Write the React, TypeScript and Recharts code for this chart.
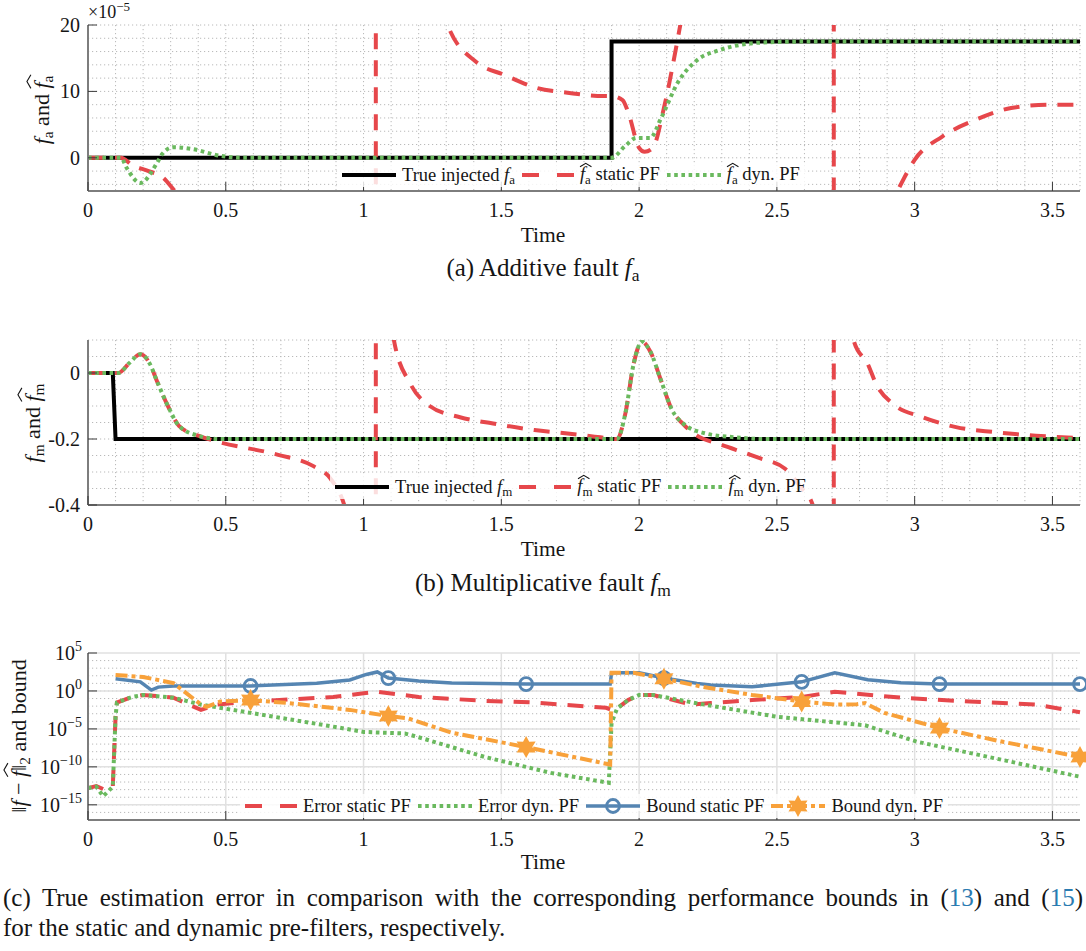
import React from "react";
import { LineChart, Line, XAxis, YAxis, CartesianGrid, Legend } from "recharts";

const FONT = '"Liberation Serif", "Times New Roman", serif';
const INK = "#151515";
const AXIS = "#7d7d7d";
const GRID = "#b9b9b9";
const MAJOR = "#e1e1e1";
const RED = "#e6474b";
const GREEN = "#6ab95e";
const BLUE = "#5585b2";
const ORANGE = "#f8a13a";
const LINK = "#2a7bb1";

const timeTicks = [0, 0.5, 1, 1.5, 2, 2.5, 3, 3.5];
const markerTimes = [0.59, 1.09, 1.59, 2.09, 2.59, 3.09, 3.6];

// (a) additive fault, values in units of 1e-5
const aTrue: [number, number][] = [[0, 0], [1.9, 0], [1.9, 17.5], [3.6, 17.5]];
const aStatic: [number, number][] = [
  [0, 0], [0.12, 0], [0.16, -1.1], [0.22, -2.0], [0.27, -2.9], [0.32, -5.2], [0.45, -9], [0.65, -18],
  [0.85, -40], [1.0, -120], [1.043, -3000], [1.046, 3000], [1.1, 200], [1.2, 42], [1.305, 20],
  [1.41, 14.4], [1.51, 12.5], [1.63, 10.5], [1.74, 9.8], [1.87, 9.3], [1.9, 9.3], [1.94, 8.7],
  [1.96, 6.9], [2.0, 1.5], [2.02, 0.9], [2.05, 1.5], [2.09, 7.5], [2.145, 19], [2.2, 32], [2.35, 70],
  [2.55, 200], [2.68, 1500], [2.705, 30000], [2.708, -30000], [2.78, -40], [2.86, -12], [2.94, -4.8],
  [3.0, -0.3], [3.1, 3.2], [3.22, 5.7], [3.35, 7.5], [3.49, 8.0], [3.6, 8.0],
];
const aDyn: [number, number][] = [
  [0, 0], [0.12, 0], [0.14, -1.5], [0.19, -3.8], [0.25, -0.8], [0.27, 0.6], [0.31, 1.6], [0.38, 1.3],
  [0.48, 0.3], [0.56, 0], [1.9, 0], [1.95, 1.8], [1.99, 3.0], [2.04, 3.0], [2.08, 6.0], [2.14, 11.3],
  [2.21, 14.7], [2.29, 16.2], [2.38, 17.1], [2.47, 17.4], [2.6, 17.5], [3.6, 17.5],
];

// (b) multiplicative fault
const bTrue: [number, number][] = [[0, 0], [0.09, 0], [0.1, -0.2], [3.6, -0.2]];
const bStatic: [number, number][] = [
  [0, 0], [0.11, 0], [0.15, 0.03], [0.19, 0.057], [0.225, 0.027], [0.25, -0.024], [0.29, -0.1],
  [0.33, -0.16], [0.4, -0.19], [0.47, -0.208], [0.69, -0.248], [0.82, -0.283], [0.88, -0.32],
  [0.93, -0.4], [1.0, -0.7], [1.043, -20], [1.046, 20], [1.08, 0.4], [1.11, 0.1], [1.17, -0.033],
  [1.24, -0.1], [1.35, -0.134], [1.47, -0.153], [1.62, -0.173], [1.74, -0.183], [1.86, -0.195],
  [1.92, -0.2], [1.95, -0.123], [1.98, 0.027], [2.01, 0.095], [2.04, 0.066], [2.08, -0.024],
  [2.12, -0.113], [2.16, -0.155], [2.21, -0.19], [2.29, -0.215], [2.43, -0.256], [2.53, -0.29],
  [2.59, -0.35], [2.63, -0.4], [2.68, -1.2], [2.705, -20], [2.708, 20], [2.75, 0.4], [2.78, 0.095],
  [2.83, 0.027], [2.86, -0.033], [2.92, -0.093], [3.03, -0.134], [3.15, -0.164], [3.29, -0.179],
  [3.44, -0.19], [3.6, -0.197],
];
const bDyn: [number, number][] = [
  [0, 0], [0.11, 0], [0.15, 0.03], [0.19, 0.057], [0.225, 0.027], [0.25, -0.024], [0.29, -0.1],
  [0.33, -0.16], [0.4, -0.19], [0.48, -0.2], [1.92, -0.2], [1.95, -0.123], [1.98, 0.027], [2.01, 0.095],
  [2.04, 0.066], [2.08, -0.024], [2.12, -0.113], [2.16, -0.153], [2.24, -0.183], [2.35, -0.195],
  [2.45, -0.2], [3.6, -0.2],
];

// (c) error norms and bounds (log scale)
const cErrStatic: [number, number][] = [
  [0, 1.6e-13], [0.03, 3e-13], [0.06, 1e-13], [0.09, 2.5e-13], [0.1, 4e-4], [0.105, 0.03],
  [0.16, 0.16], [0.2, 0.3], [0.31, 0.13], [0.41, 3.2e-3], [0.47, 0.016], [0.59, 0.04], [0.89, 0.16],
  [1.0, 0.5], [1.05, 0.8], [1.2, 0.16], [1.44, 0.05], [1.62, 0.03], [1.88, 6e-3], [1.91, 2.5e-3],
  [1.96, 0.063], [2.0, 0.3], [2.05, 0.3], [2.19, 0.016], [2.26, 0.025], [2.41, 0.063], [2.59, 0.16],
  [2.71, 0.8], [2.95, 0.13], [3.2, 0.04], [3.44, 0.016], [3.6, 1.6e-3],
];
const cErrDyn: [number, number][] = [
  [0, 1.6e-13], [0.03, 2.5e-13], [0.055, 1.3e-14], [0.09, 2.5e-13], [0.1, 4e-4], [0.105, 0.03],
  [0.16, 0.16], [0.2, 0.3], [0.31, 0.13], [0.41, 0.016], [0.59, 1.3e-3], [0.89, 2e-5], [1.0, 4e-6],
  [1.15, 2.5e-6], [1.2, 8e-7], [1.44, 2e-9], [1.68, 1.6e-11], [1.89, 8e-13], [1.9, 6e-5],
  [1.92, 5e-3], [1.96, 0.063], [2.0, 0.3], [2.05, 0.3], [2.22, 0.02], [2.5, 4e-4], [2.82, 3e-5],
  [3.01, 2e-7], [3.32, 8e-10], [3.6, 5e-12],
];
const cBoundStatic: [number, number][] = [
  [0.1, 40], [0.19, 16], [0.23, 1.3], [0.255, 3.2], [0.31, 4.5], [0.59, 4.5], [0.83, 10], [0.95, 28],
  [1.01, 150], [1.05, 320], [1.09, 50], [1.2, 20], [1.32, 11], [1.59, 8], [1.895, 8], [1.9, 250],
  [2.0, 250], [2.09, 50], [2.21, 10], [2.26, 6], [2.41, 3.5], [2.59, 16], [2.71, 250], [2.83, 30],
  [2.95, 12], [3.09, 8], [3.6, 8],
];
const cBoundDyn: [number, number][] = [
  [0.1, 125], [0.2, 70], [0.31, 11], [0.41, 0.016], [0.43, 8e-3], [0.48, 0.04], [0.59, 0.063],
  [0.73, 0.025], [0.95, 3.2e-3], [1.09, 5e-4], [1.16, 2.5e-4], [1.32, 3.2e-6], [1.59, 4e-8],
  [1.895, 2e-10], [1.9, 250], [1.98, 250], [2.09, 40], [2.23, 3.5], [2.41, 0.3], [2.59, 0.04],
  [2.71, 0.016], [2.79, 0.018], [2.82, 0.025], [2.89, 1.3e-3], [3.09, 1.3e-5], [3.32, 2e-7], [3.6, 2e-9],
];

const rows = (pairs: [number, number][]) => pairs.map(([t, v]) => ({ t, v }));

// grid positions
const gridT = Array.from({ length: 37 }, (_, i) => i / 10);
const aGridY = Array.from({ length: 13 }, (_, i) => -4 + 2 * i);
const bGridY = Array.from({ length: 10 }, (_, i) => -0.35 + 0.05 * i);
const cMinorY = Array.from({ length: 21 }, (_, i) => Math.pow(10, i - 16));
const cMajorY = [1e-15, 1e-10, 1e-5, 1, 1e5];
const cMajorT = [0.5, 1, 1.5, 2, 2.5, 3, 3.5];

const W = 1086;
const TICK_FS = 20;

const starPoints = (cx: number, cy: number, R: number) => {
  const pts: string[] = [];
  for (let k = 0; k < 12; k++) {
    const a = ((-90 + k * 30) * Math.PI) / 180;
    const r = k % 2 === 0 ? R : R * 0.56;
    pts.push(`${cx + r * Math.cos(a)},${cy + r * Math.sin(a)}`);
  }
  return pts.join(" ");
};

const TimeTick = (p: any) => {
  const { x, y, payload } = p;
  return (
    <g>
      <line x1={x} y1={y} x2={x} y2={y - 9} stroke="#3a3a3a" strokeWidth={1} />
      <text x={x} y={y + 26} textAnchor="middle" fontFamily={FONT} fontSize={TICK_FS} fill={INK}>
        {payload.value}
      </text>
    </g>
  );
};

const ValueTick = (p: any) => {
  const { x, y, payload } = p;
  const v = payload.value as number;
  const label = v === 0 ? "0" : Number.isInteger(v) ? String(v) : v.toFixed(1);
  return (
    <g>
      <line x1={x} y1={y} x2={x + 9} y2={y} stroke="#3a3a3a" strokeWidth={1} />
      <text x={x - 8} y={y + 7} textAnchor="end" fontFamily={FONT} fontSize={TICK_FS} fill={INK}>
        {label}
      </text>
    </g>
  );
};

const LogTick = (p: any) => {
  const { x, y, payload } = p;
  const e = Math.round(Math.log10(payload.value));
  return (
    <g>
      <line x1={x} y1={y} x2={x + 9} y2={y} stroke="#3a3a3a" strokeWidth={1} />
      <text x={x - 6} y={y + 7} textAnchor="end" fontFamily={FONT} fontSize={TICK_FS} fill={INK}>
        10
        <tspan dy={-9} fontSize={14}>{e < 0 ? `\u2212${-e}` : e}</tspan>
      </text>
    </g>
  );
};

const Sub = ({ children }: { children: React.ReactNode }) => (
  <span style={{ fontSize: "0.7em", position: "relative", top: "0.28em", fontStyle: "normal" }}>{children}</span>
);

// wide hat accent drawn as a small path above the symbol
const Hat = ({ children }: { children: React.ReactNode }) => (
  <span style={{ position: "relative", display: "inline-block", lineHeight: 1.15 }}>
    <svg
      viewBox="0 0 10 4"
      preserveAspectRatio="none"
      style={{ position: "absolute", left: "0.02em", top: "-0.08em", width: "0.62em", height: "0.2em", overflow: "visible" }}
    >
      <polyline points="0,4 5,0.4 10,4" fill="none" stroke="currentColor" strokeWidth={1.1} vectorEffect="non-scaling-stroke" />
    </svg>
    {children}
  </span>
);

const Fsym = ({ s, hat }: { s: string; hat?: boolean }) => (
  <span style={{ whiteSpace: "nowrap" }}>
    {hat ? (
      <Hat>
        <i>f</i>
      </Hat>
    ) : (
      <i>f</i>
    )}
    <Sub>{s}</Sub>
  </span>
);

type Sample = { color: string; width: number; dash?: string; marker?: "circle" | "star"; len: number };

const SampleSvg = ({ s }: { s: Sample }) => (
  <svg width={s.len} height={22} style={{ display: "block", overflow: "visible" }}>
    <line x1={0} y1={11} x2={s.len} y2={11} stroke={s.color} strokeWidth={s.width} strokeDasharray={s.dash} />
    {s.marker === "circle" && <circle cx={s.len / 2} cy={11} r={6.5} fill="none" stroke={s.color} strokeWidth={2.8} />}
    {s.marker === "star" && <polygon points={starPoints(s.len / 2, 11, 11)} fill={s.color} />}
  </svg>
);

const LegendBox = ({ items }: { items: { s: Sample; label: React.ReactNode }[] }) => (
  <div
    style={{
      display: "inline-flex",
      alignItems: "center",
      background: "rgba(255,255,255,0.82)",
      fontFamily: FONT,
      fontSize: 18.5,
      color: INK,
      padding: "0 5px",
      height: 24,
      whiteSpace: "nowrap",
    }}
  >
    {items.map((it, i) => (
      <div key={i} style={{ display: "flex", alignItems: "center", marginRight: i === items.length - 1 ? 0 : 7 }}>
        <SampleSvg s={it.s} />
        <span style={{ marginLeft: 6 }}>{it.label}</span>
      </div>
    ))}
  </div>
);

const blackS: Sample = { color: "#000", width: 4, len: 54 };
const redS: Sample = { color: RED, width: 4, dash: "17 18", len: 52 };
const greenS: Sample = { color: GREEN, width: 4, dash: "3.6 3.6", len: 54 };

const markerDot = (kind: "circle" | "star", color: string) => (p: any) => {
  const { cx, cy, payload, index } = p;
  if (!markerTimes.includes(payload.t)) return <g key={`n${index}`} />;
  return kind === "circle" ? (
    <circle key={`m${index}`} cx={cx} cy={cy} r={6.5} fill="none" stroke={color} strokeWidth={2.8} />
  ) : (
    <polygon key={`m${index}`} points={starPoints(cx, cy, 11)} fill={color} />
  );
};

const abs = (left: number, top: number, extra: React.CSSProperties = {}): React.CSSProperties => ({
  position: "absolute",
  left,
  top,
  ...extra,
});

const YLabel = ({ x, y, children }: { x: number; y: number; children: React.ReactNode }) => (
  <div
    style={{
      position: "absolute",
      left: x,
      top: y,
      transform: "translate(-50%, -50%) rotate(-90deg)",
      whiteSpace: "nowrap",
      fontSize: 22,
      lineHeight: "24px",
    }}
  >
    {children}
  </div>
);

const Centered = ({ y, size, children }: { y: number; size: number; children: React.ReactNode }) => (
  <div style={{ position: "absolute", left: 0, width: W, top: y - 15, lineHeight: "30px", textAlign: "center", fontSize: size }}>
    {children}
  </div>
);

const lineProps = { type: "linear" as const, dataKey: "v", dot: false, activeDot: false, isAnimationActive: false };

export default function App() {
  const chartMargin = { top: 25, right: 6, bottom: 0, left: 48 };
  const xAxis = (
    <XAxis
      dataKey="t"
      type="number"
      domain={[0, 3.6]}
      ticks={timeTicks}
      height={59}
      tickSize={0}
      tickMargin={0}
      tickLine={false}
      axisLine={{ stroke: AXIS, strokeWidth: 2 }}
      tick={(p: any) => <TimeTick {...p} />}
      interval={0}
    />
  );

  return (
    <div style={{ position: "absolute", left: 0, top: 0, width: W, height: 951, background: "#fff", fontFamily: FONT, color: INK }}>
      {/* (a) */}
      <div style={abs(0, 0)}>
        <LineChart width={W} height={250} margin={chartMargin}>
          <CartesianGrid stroke={GRID} strokeDasharray="1.2 2.8" verticalValues={gridT} horizontalValues={aGridY} />
          {xAxis}
          <YAxis
            type="number"
            domain={[-5, 20]}
            ticks={[0, 10, 20]}
            allowDataOverflow
            width={40}
            tickSize={0}
            tickMargin={0}
            tickLine={false}
            axisLine={{ stroke: AXIS, strokeWidth: 2 }}
            tick={(p: any) => <ValueTick {...p} />}
            interval={0}
          />
          <Line {...lineProps} data={rows(aTrue)} stroke="#000" strokeWidth={4} />
          <Line {...lineProps} type="monotone" data={rows(aStatic)} stroke={RED} strokeWidth={4} strokeDasharray="16 11" />
          <Line {...lineProps} type="monotone" data={rows(aDyn)} stroke={GREEN} strokeWidth={4} strokeDasharray="3.6 3.6" />
          <Legend
            layout="horizontal"
            verticalAlign="middle"
            align="center"
            wrapperStyle={{ left: 337, top: 163, width: 560, height: 24, right: "auto", bottom: "auto" }}
            content={() => (
              <LegendBox
                items={[
                  { s: blackS, label: <>True injected <Fsym s="a" /></> },
                  { s: redS, label: <><Fsym s="a" hat /> static PF</> },
                  { s: greenS, label: <><Fsym s="a" hat /> dyn. PF</> },
                ]}
              />
            )}
          />
        </LineChart>
      </div>
      <div style={abs(88, 0, { fontSize: 18, lineHeight: "24px" })}>
        ×10<span style={{ fontSize: 13, position: "relative", top: -7 }}>−5</span>
      </div>
      <YLabel x={42} y={110}>
        <Fsym s="a" /> and <Fsym s="a" hat />
      </YLabel>
      <Centered y={235} size={21.5}>Time</Centered>
      <Centered y={268} size={25}>
        (a) Additive fault <Fsym s="a" />
      </Centered>

      {/* (b) */}
      <div style={abs(0, 315)}>
        <LineChart width={W} height={249} margin={chartMargin}>
          <CartesianGrid stroke={GRID} strokeDasharray="1.2 2.8" verticalValues={gridT} horizontalValues={bGridY} />
          {xAxis}
          <YAxis
            type="number"
            domain={[-0.4, 0.1]}
            ticks={[-0.4, -0.2, 0]}
            allowDataOverflow
            width={40}
            tickSize={0}
            tickMargin={0}
            tickLine={false}
            axisLine={{ stroke: AXIS, strokeWidth: 2 }}
            tick={(p: any) => <ValueTick {...p} />}
            interval={0}
          />
          <Line {...lineProps} data={rows(bTrue)} stroke="#000" strokeWidth={4} />
          <Line {...lineProps} type="monotone" data={rows(bStatic)} stroke={RED} strokeWidth={4} strokeDasharray="16 11" />
          <Line {...lineProps} type="monotone" data={rows(bDyn)} stroke={GREEN} strokeWidth={4} strokeDasharray="3.6 3.6" />
          <Legend
            layout="horizontal"
            verticalAlign="middle"
            align="center"
            wrapperStyle={{ left: 330, top: 160, width: 560, height: 24, right: "auto", bottom: "auto" }}
            content={() => (
              <LegendBox
                items={[
                  { s: blackS, label: <>True injected <Fsym s="m" /></> },
                  { s: redS, label: <><Fsym s="m" hat /> static PF</> },
                  { s: greenS, label: <><Fsym s="m" hat /> dyn. PF</> },
                ]}
              />
            )}
          />
        </LineChart>
      </div>
      <YLabel x={33} y={423}>
        <Fsym s="m" /> and <Fsym s="m" hat />
      </YLabel>
      <Centered y={549} size={21.5}>Time</Centered>
      <Centered y={583} size={25}>
        (b) Multiplicative fault <Fsym s="m" />
      </Centered>

      {/* (c) */}
      <div style={abs(0, 628)}>
        <LineChart width={W} height={251} margin={chartMargin}>
          <CartesianGrid stroke={GRID} strokeDasharray="1.2 2.8" vertical={false} horizontalValues={cMinorY} />
          <CartesianGrid stroke={MAJOR} strokeWidth={1.5} verticalValues={cMajorT} horizontalValues={cMajorY} />
          {xAxis}
          <YAxis
            type="number"
            scale="log"
            domain={[1e-17, 1e5]}
            ticks={cMajorY}
            width={40}
            tickSize={0}
            tickMargin={0}
            tickLine={false}
            axisLine={{ stroke: AXIS, strokeWidth: 2 }}
            tick={(p: any) => <LogTick {...p} />}
            interval={0}
          />
          <Line {...lineProps} data={rows(cErrStatic)} stroke={RED} strokeWidth={4} strokeDasharray="16 11" />
          <Line {...lineProps} data={rows(cErrDyn)} stroke={GREEN} strokeWidth={4} strokeDasharray="3.6 3.6" />
          <Line {...lineProps} data={rows(cBoundStatic)} stroke={BLUE} strokeWidth={3.5} dot={markerDot("circle", BLUE)} />
          <Line
            {...lineProps}
            data={rows(cBoundDyn)}
            stroke={ORANGE}
            strokeWidth={4}
            strokeDasharray="12 4 4 4"
            dot={markerDot("star", ORANGE)}
          />
          <Legend
            layout="horizontal"
            verticalAlign="middle"
            align="center"
            wrapperStyle={{ left: 240, top: 166, width: 760, height: 24, right: "auto", bottom: "auto" }}
            content={() => (
              <LegendBox
                items={[
                  { s: redS, label: "Error static PF" },
                  { s: greenS, label: "Error dyn. PF" },
                  { s: { color: BLUE, width: 3.5, marker: "circle", len: 54 }, label: "Bound static PF" },
                  { s: { color: ORANGE, width: 4, dash: "12 4 4 4", marker: "star", len: 54 }, label: "Bound dyn. PF" },
                ]}
              />
            )}
          />
        </LineChart>
      </div>
      <YLabel x={19} y={736}>
        ‖<i>f</i> − <Hat><i>f</i></Hat>‖<Sub>2</Sub> and bound
      </YLabel>
      <Centered y={862} size={21.5}>Time</Centered>
      <div style={abs(3, 883, { width: 1080, fontSize: 25, lineHeight: "30px", textAlign: "justify", textAlignLast: "justify", whiteSpace: "nowrap" } as React.CSSProperties)}>
        (c) True estimation error in comparison with the corresponding performance bounds in (
        <span style={{ color: LINK }}>13</span>) and (<span style={{ color: LINK }}>15</span>)
      </div>
      <div style={abs(3, 913, { fontSize: 25, lineHeight: "30px" })}>
        for the static and dynamic pre-filters, respectively.
      </div>
    </div>
  );
}
